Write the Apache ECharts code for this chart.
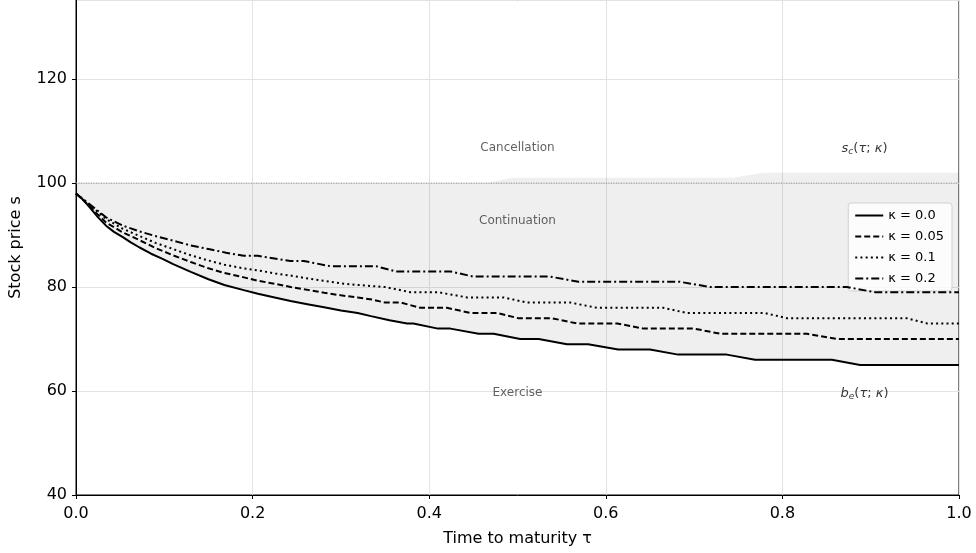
<!DOCTYPE html>
<html>
<head>
<meta charset="utf-8">
<script src="https://cdn.jsdelivr.net/npm/echarts@6/dist/echarts.min.js"></script>
<style>
html, body { margin: 0; padding: 0; background: #fff; }
#main { width: 976px; height: 553px; }
</style>
</head>
<body>
<div id="main"></div>
<script>
// exercise boundaries b_e(tau; kappa)
var kappa0 = [[0,98],[0.008,96.8],[0.0155,95.3],[0.025,93.4],[0.034,91.8],[0.043,90.6],[0.053,89.6],[0.062,88.6],[0.072,87.6],[0.085,86.4],[0.098,85.4],[0.11,84.4],[0.13,82.9],[0.15,81.5],[0.168,80.4],[0.19,79.4],[0.206,78.7],[0.225,78],[0.243,77.3],[0.262,76.7],[0.281,76.1],[0.3,75.5],[0.319,75],[0.334,74.4],[0.355,73.6],[0.375,73],[0.382,73],[0.41,72],[0.424,72],[0.456,71],[0.473,71],[0.503,70],[0.524,70],[0.556,69],[0.58,69],[0.614,68],[0.65,68],[0.682,67],[0.737,67],[0.769,66],[0.856,66],[0.888,65],[1,65]];
var kappa005 = [[0,98],[0.0155,95.5],[0.034,92.4],[0.053,90.5],[0.072,89],[0.09,87.5],[0.11,86.1],[0.13,84.8],[0.15,83.6],[0.168,82.7],[0.189,81.9],[0.206,81.2],[0.226,80.6],[0.243,80],[0.264,79.4],[0.281,78.9],[0.3,78.4],[0.319,78],[0.335,77.6],[0.35,77],[0.368,77],[0.39,76],[0.42,76],[0.447,75],[0.477,75],[0.501,74],[0.539,74],[0.567,73],[0.613,73],[0.643,72],[0.7,72],[0.73,71],[0.828,71],[0.862,70],[1,70]];
var kappa01 = [[0,98],[0.0155,95.8],[0.034,93.1],[0.053,91.2],[0.072,89.8],[0.09,88.5],[0.11,87.3],[0.13,86.1],[0.15,85.1],[0.168,84.3],[0.189,83.6],[0.206,83.2],[0.226,82.6],[0.243,82.2],[0.264,81.6],[0.281,81.2],[0.3,80.7],[0.319,80.4],[0.334,80.2],[0.35,80],[0.379,79],[0.41,79],[0.443,78],[0.484,78],[0.511,77],[0.56,77],[0.59,76],[0.665,76],[0.692,75],[0.78,75],[0.805,74],[0.941,74],[0.964,73],[1,73]];
var kappa02 = [[0,98],[0.0155,95.9],[0.034,93.4],[0.053,91.8],[0.072,90.7],[0.09,89.8],[0.11,88.9],[0.13,88],[0.15,87.3],[0.17,86.6],[0.19,86],[0.206,86],[0.243,85],[0.258,85],[0.288,84],[0.34,84],[0.362,83],[0.424,83],[0.45,82],[0.537,82],[0.569,81],[0.684,81],[0.718,80],[0.873,80],[0.905,79],[1,79]];
// cancellation boundary s_c(tau; kappa)
var cancelBound = [[0,100],[0.466,100],[0.494,101],[0.744,101],[0.778,102],[1,102]];
var strikeLine = [[0,100],[1,100]];

var legendNames = ['κ = 0.0', 'κ = 0.05', 'κ = 0.1', 'κ = 0.2'];
var regionLabels = [[0.5,106.8,'Cancellation'],[0.5,92.8,'Continuation'],[0.5,59.6,'Exercise']];
var boundLabels = [[0.893,106.7,'c'],[0.893,59.5,'e']];

var chart = echarts.init(document.getElementById('main'));

function lineSeries(name, data, type) {
	return {
		name : name,
		type : 'line',
		data : data,
		showSymbol : false,
		symbol : 'none',
		z : 5,
		itemStyle : { color : '#000' },
		lineStyle : {
			color : '#000',
			width : 2,
			type : type
		}
	};
}

chart.setOption({
	animation : false,
	textStyle : { fontFamily : 'DejaVu Sans' },
	grid : {
		left : 75,
		right : 17,
		top : -1,
		bottom : 58,
		show : true,
		borderColor : '#000',
		borderWidth : 1
	},
	legend : {
		data : legendNames,
		orient : 'vertical',
		right : 24,
		top : 203,
		padding : [6, 8, 6, 6],
		itemWidth : 28,
		itemHeight : 14,
		itemGap : 8,
		itemStyle : { opacity : 0 },
		backgroundColor : 'rgba(255,255,255,0.8)',
		borderColor : '#d0d0d0',
		borderWidth : 1,
		borderRadius : 3,
		textStyle : { fontSize : 13, color : '#000', fontFamily : 'DejaVu Sans' }
	},
	xAxis : {
		type : 'value',
		min : 0,
		max : 1,
		interval : 0.2,
		name : 'Time to maturity τ',
		nameLocation : 'middle',
		nameGap : 36,
		nameTextStyle : { fontSize : 16, color : '#000' },
		axisLine : { show : true, lineStyle : { color : '#000' } },
		axisTick : { show : true, length : 4, lineStyle : { color : '#000' } },
		axisLabel : {
			fontSize : 16,
			color : '#000',
			margin : 11,
			formatter : function(v) { return v.toFixed(1); }
		},
		splitLine : { show : true, lineStyle : { color : '#e3e3e3', width : 1 } }
	},
	yAxis : {
		type : 'value',
		min : 40,
		max : 135.2,
		interval : 20,
		name : 'Stock price s',
		nameLocation : 'middle',
		nameGap : 52,
		nameTextStyle : { fontSize : 16, color : '#000' },
		axisLine : { show : true, lineStyle : { color : '#000' } },
		axisTick : { show : true, length : 4, lineStyle : { color : '#000' } },
		axisLabel : { fontSize : 16, color : '#000', margin : 9, showMaxLabel : false },
		splitLine : { show : true, lineStyle : { color : '#e3e3e3', width : 1 } }
	},
	series : [ {
		// shaded continuation region between b_e (kappa = 0) and s_c
		type : 'custom',
		silent : true,
		z : 1,
		data : [[0, 100]],
		renderItem : function(params, api) {
			var pts = [];
			cancelBound.forEach(function(p) { pts.push(api.coord(p)); });
			kappa0.slice().reverse().forEach(function(p) { pts.push(api.coord(p)); });
			return {
				type : 'polygon',
				shape : { points : pts },
				style : { fill : 'rgba(0,0,0,0.063)', stroke : 'none' }
			};
		}
	}, {
		type : 'line',
		data : strikeLine,
		silent : true,
		symbol : 'none',
		z : 2,
		lineStyle : { color : '#999', width : 1, type : [1, 1.5] }
	},
	lineSeries(legendNames[0], kappa0, 'solid'),
	lineSeries(legendNames[1], kappa005, [6, 3]),
	lineSeries(legendNames[2], kappa01, [2, 3.2]),
	lineSeries(legendNames[3], kappa02, [8, 3, 2, 3]),
	{
		type : 'scatter',
		data : regionLabels,
		symbolSize : 0,
		silent : true,
		z : 6,
		label : {
			show : true,
			position : 'inside',
			fontSize : 12,
			color : '#3a3a3a',
			formatter : function(p) { return p.data[2]; }
		}
	}, {
		type : 'scatter',
		data : boundLabels,
		symbolSize : 0,
		silent : true,
		z : 6,
		label : {
			show : true,
			position : 'inside',
			color : '#000',
			formatter : function(p) {
				var letter = p.data[2] === 'c' ? 's' : 'b';
				return '{i|' + letter + '}{sub|' + p.data[2] + '}{n|(}{i|τ}{n|; }{i|κ}{n|)}';
			},
			rich : {
				i : { fontStyle : 'italic', fontSize : 13, lineHeight : 16, verticalAlign : 'middle' },
				n : { fontSize : 13, lineHeight : 16, verticalAlign : 'middle' },
				sub : { fontStyle : 'italic', fontSize : 9, lineHeight : 16, verticalAlign : 'bottom', padding : [6, 0, 0, 0] }
			}
		}
	} ]
});
</script>
</body>
</html>
